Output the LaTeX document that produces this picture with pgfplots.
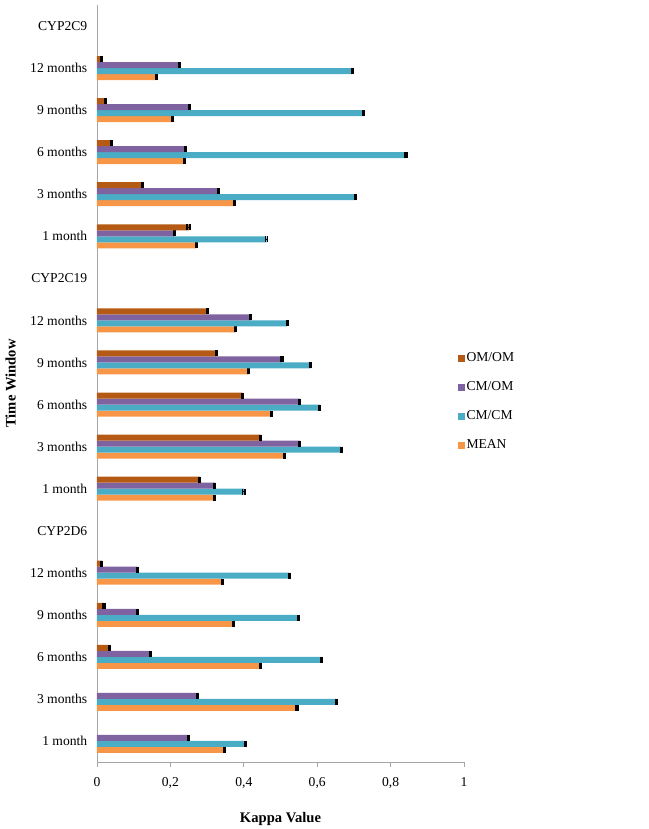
\documentclass[border=0pt]{standalone}
\usepackage{fontspec}
\setmainfont{Liberation Serif}
\usepackage{pgfplots}
\pgfplotsset{compat=1.18}
\definecolor{omom}{HTML}{B45A14}
\definecolor{cmom}{HTML}{7F63A1}
\definecolor{cmcm}{HTML}{4BACC6}
\definecolor{meancol}{HTML}{F79646}
\begin{document}
\fontsize{13.6bp}{16bp}\selectfont
\begin{tikzpicture}
\begin{axis}[
  at={(0bp,0bp)}, anchor=south west,
  scale only axis, width=367bp, height=757bp,
  xbar, bar width=6bp,
  xmin=0, xmax=1, ymin=-0.5, ymax=17.5,
  axis x line*=bottom, axis y line*=left,
  axis line style={-, draw=gray!70, line width=0.8pt},
  xtick={0,0.2,0.4,0.6,0.8,1},
  /pgf/number format/assume math mode=true,
  /pgf/number format/use comma,
  xticklabel style={font=\fontsize{13.6bp}{16bp}\selectfont, yshift=-6bp},
  xtick align=outside, xtick pos=bottom,
  major x tick style={draw=gray!70, line width=0.8pt},
  major tick length=5bp,
  ytick={0,...,17},
  major y tick style={draw=none},
  yticklabels={1 month,3 months,6 months,9 months,12 months,CYP2D6,
    1 month,3 months,6 months,9 months,12 months,CYP2C19,
    1 month,3 months,6 months,9 months,12 months,CYP2C9},
  yticklabel style={font=\fontsize{13.6bp}{16bp}\selectfont},
  xlabel={\bfseries Kappa Value},
  ylabel={\bfseries Time Window},
  xlabel style={font=\fontsize{14.6bp}{17bp}\selectfont, yshift=-14bp},
  ylabel style={font=\fontsize{14.6bp}{17bp}\selectfont, yshift=5bp},
  reverse legend,
  legend style={draw=none, fill=none, at={(0.975,0.476)}, anchor=west,
    font=\fontsize{13.6bp}{16bp}\selectfont, row sep=14bp,
    nodes={inner xsep=1.5bp}},
  legend cell align=left,
  legend image code/.code={\fill[#1,draw=none] (0bp,-3.5bp) rectangle (7bp,3.5bp);},
  error bars/error bar style={draw=black, line width=1.2bp},
  error bars/error mark options={draw=black, line width=1.6bp, mark size=3bp, rotate=90},
]
\addplot[fill=meancol, draw=none, bar shift=-9bp,
  error bars/.cd, x dir=both, x explicit] coordinates {
  (0.347,0) +- (0.002,0) (0.545,1) +- (0.002,0) (0.445,2) +- (0.002,0) (0.373,3) +- (0.002,0) (0.341,4) +- (0.002,0)
  (0.319,6) +- (0.002,0) (0.512,7) +- (0.002,0) (0.475,8) +- (0.002,0) (0.414,9) +- (0.002,0) (0.377,10) +- (0.002,0)
  (0.271,12) +- (0.002,0) (0.374,13) +- (0.002,0) (0.238,14) +- (0.002,0) (0.205,15) +- (0.002,0) (0.162,16) +- (0.002,0)
};
\addlegendentry{MEAN}
\addplot[fill=cmcm, draw=none, bar shift=-3bp,
  error bars/.cd, x dir=both, x explicit] coordinates {
  (0.405,0) +- (0.002,0) (0.652,1) +- (0.002,0) (0.611,2) +- (0.002,0) (0.548,3) +- (0.002,0) (0.524,4) +- (0.002,0)
  (0.400,6) +- (0.003,0) (0.665,7) +- (0.002,0) (0.607,8) +- (0.002,0) (0.582,9) +- (0.002,0) (0.518,10) +- (0.002,0)
  (0.462,12) +- (0.003,0) (0.705,13) +- (0.002,0) (0.842,14) +- (0.002,0) (0.727,15) +- (0.002,0) (0.695,16) +- (0.002,0)
};
\addlegendentry{CM/CM}
\addplot[fill=cmom, draw=none, bar shift=3bp,
  error bars/.cd, x dir=both, x explicit] coordinates {
  (0.249,0) +- (0.002,0) (0.275,1) +- (0.002,0) (0.145,2) +- (0.002,0) (0.110,3) +- (0.002,0) (0.110,4) +- (0.002,0)
  (0.321,6) +- (0.002,0) (0.553,7) +- (0.002,0) (0.553,8) +- (0.002,0) (0.504,9) +- (0.002,0) (0.419,10) +- (0.002,0)
  (0.211,12) +- (0.002,0) (0.332,13) +- (0.002,0) (0.241,14) +- (0.002,0) (0.253,15) +- (0.002,0) (0.224,16) +- (0.002,0)
};
\addlegendentry{CM/OM}
\addplot[fill=omom, draw=none, bar shift=9bp,
  error bars/.cd, x dir=both, x explicit] coordinates {
  (0.034,2) +- (0.002,0) (0.019,3) +- (0.002,0) (0.013,4) +- (0.002,0)
  (0.280,6) +- (0.002,0) (0.446,7) +- (0.002,0) (0.396,8) +- (0.002,0) (0.325,9) +- (0.002,0) (0.300,10) +- (0.002,0)
  (0.250,12) +- (0.004,0) (0.125,13) +- (0.002,0) (0.039,14) +- (0.002,0) (0.022,15) +- (0.002,0) (0.012,16) +- (0.002,0)
};
\addlegendentry{OM/OM}
\end{axis}
\pgfresetboundingbox
\path (-97bp,-67bp) rectangle (552bp,762bp);
\end{tikzpicture}
\end{document}
